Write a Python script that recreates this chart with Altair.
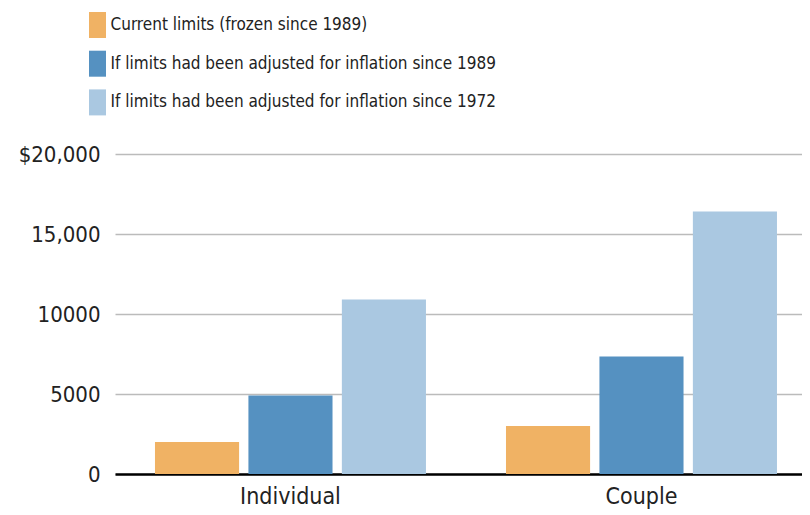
import altair as alt
import pandas as pd

groups = ["Individual", "Couple"]
series = [
    "Current limits (frozen since 1989)",
    "If limits had been adjusted for inflation since 1989",
    "If limits had been adjusted for inflation since 1972",
]
colors = ["#F0B264", "#5591C1", "#AAC8E1"]
values = {
    "Individual": [2000, 4900, 10900],
    "Couple": [3000, 7350, 16400],
}
y_tick_values = [0, 5000, 10000, 15000, 20000]
y_tick_labels = ["0", "5000", "10000", "15,000", "$20,000"]

rows = []
for g in groups:
    for s, v in zip(series, values[g]):
        rows.append({"group": g, "series": s, "value": v})
df = pd.DataFrame(rows)

label_expr = "".join(
    f"datum.value == {v} ? '{l}' : " for v, l in zip(y_tick_values, y_tick_labels)
) + "datum.label"

FONT = "'DejaVu Sans Condensed', 'Liberation Sans Narrow', Roboto, sans-serif"

chart = (
    alt.Chart(df)
    .mark_bar()
    .encode(
        x=alt.X(
            "group:N",
            sort=groups,
            scale=alt.Scale(paddingInner=0.228, paddingOuter=0.0926, align=0.615),
            axis=alt.Axis(
                title=None,
                labelAngle=0,
                ticks=False,
                domainColor="#000000",
                domainWidth=2.5,
                labelFontSize=23,
                labelFont=FONT,
                labelColor="#222222",
                labelPadding=11,
            ),
        ),
        xOffset=alt.XOffset(
            "series:N", sort=series, scale=alt.Scale(paddingInner=0.1, paddingOuter=0)
        ),
        y=alt.Y(
            "value:Q",
            scale=alt.Scale(domain=[0, 20000], nice=False),
            axis=alt.Axis(
                title=None,
                values=y_tick_values,
                labelExpr=label_expr,
                domain=False,
                ticks=False,
                gridColor="#BBBBBB",
                gridWidth=1.5,
                labelFontSize=22,
                labelFont=FONT,
                labelColor="#222222",
                labelPadding=15,
            ),
        ),
        color=alt.Color(
            "series:N",
            scale=alt.Scale(domain=series, range=colors),
            legend=alt.Legend(
                title=None,
                orient="none",
                legendX=-30.5,
                legendY=-142,
                direction="vertical",
                symbolType="M-0.654,-1H0.654V1H-0.654Z",
                symbolSize=676,
                symbolStrokeWidth=0,
                symbolOpacity=1,
                labelFontSize=17,
                labelFont=FONT,
                labelColor="#222222",
                labelOffset=0,
                labelLimit=0,
                rowPadding=12.7,
                padding=0,
            ),
        ),
    )
    .properties(
        width=687,
        height=320,
        autosize=alt.AutoSizeParams(type="none"),
        padding={"left": 107, "top": 146, "right": 0, "bottom": 40},
    )
    .configure_view(stroke=None)
)

chart.save("out.html", embed_options={"renderer": "svg", "actions": False})
